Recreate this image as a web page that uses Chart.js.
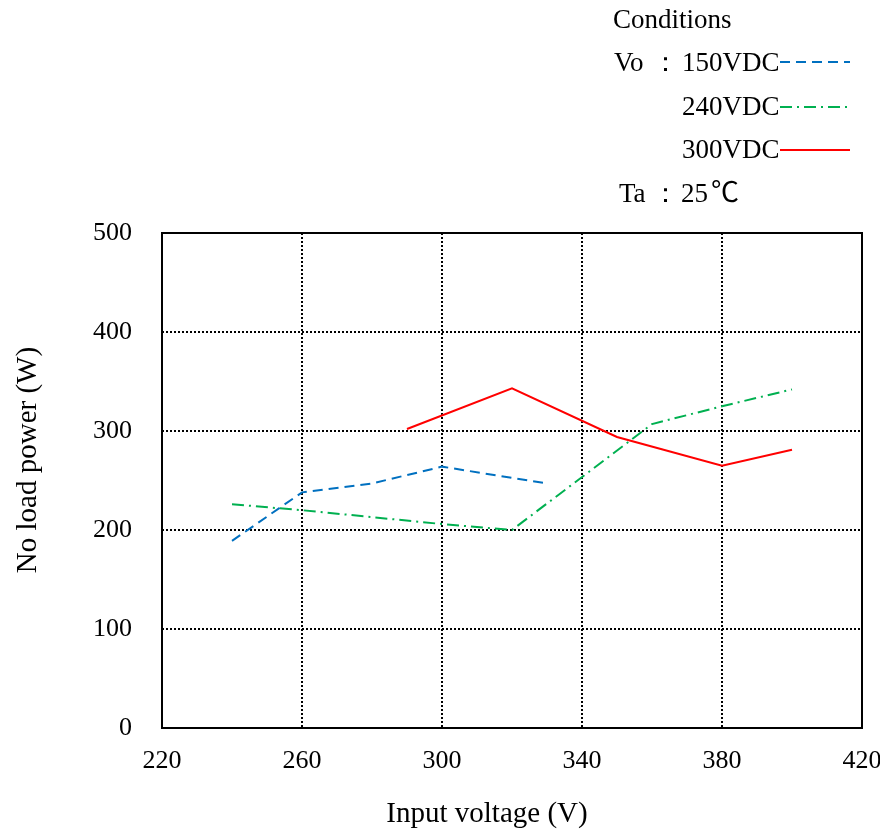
<!DOCTYPE html>
<html>
<head>
<meta charset="utf-8">
<script src="https://cdn.jsdelivr.net/npm/chart.js@4.4.1/dist/chart.umd.min.js"></script>
<style>
  html, body { margin: 0; padding: 0; background: #fff; }
  #wrap { position: relative; width: 880px; height: 829px; }
</style>
</head>
<body>
<div id="wrap"><canvas id="c" width="880" height="829"></canvas></div>
<script>
// ---- data ----
const seriesLabels = ['150VDC', '240VDC', '300VDC'];
const x150 = [240, 260, 280, 300, 330];
const y150 = [189, 238, 247, 264, 247];
const x240 = [240, 260, 300, 320, 360, 380, 400];
const y240 = [226, 220, 206, 200, 307, 325, 342];
const x300 = [290, 320, 350, 380, 400];
const y300 = [302, 343, 294, 265, 281];
const xTicks = [220, 260, 300, 340, 380, 420];
const yTicks = [0, 100, 200, 300, 400, 500];
const xTitle = 'Input voltage (V)';
const yTitle = 'No load power (W)';
const legendTitle = 'Conditions';
const legendVo = 'Vo';
const legendTa = 'Ta';
const taValue = '25';
const taUnit = '℃';

const SERIF = '"Liberation Serif", "Times New Roman", serif';
const pts = (xs, ys) => xs.map((x, i) => ({ x: x, y: ys[i] }));

const datasets = [
  { label: seriesLabels[0], data: pts(x150, y150), borderColor: '#0070C0', borderDash: [10, 6] },
  { label: seriesLabels[1], data: pts(x240, y240), borderColor: '#00B050', borderDash: [12, 5, 2, 5] },
  { label: seriesLabels[2], data: pts(x300, y300), borderColor: '#FF0000', borderDash: [] }
].map(d => Object.assign(d, { borderWidth: 2, pointRadius: 0, tension: 0, fill: false }));

const framePlugin = {
  id: 'frame',
  afterDatasetsDraw(chart) {
    const { ctx, chartArea: a } = chart;
    ctx.save();
    ctx.strokeStyle = '#000';
    ctx.lineWidth = 2;
    ctx.setLineDash([]);
    ctx.strokeRect(a.left, a.top, a.right - a.left, a.bottom - a.top);
    ctx.restore();
  }
};

const textPlugin = {
  id: 'texts',
  afterDraw(chart) {
    const ctx = chart.ctx;
    ctx.save();
    ctx.fillStyle = '#000';
    ctx.textBaseline = 'alphabetic';
    // axis titles
    ctx.font = '29px ' + SERIF;
    ctx.textAlign = 'center';
    ctx.fillText(xTitle, 487, 822);
    ctx.save();
    ctx.translate(36, 460);
    ctx.rotate(-Math.PI / 2);
    ctx.fillText(yTitle, 0, 0);
    ctx.restore();
    // legend
    ctx.font = '27px ' + SERIF;
    ctx.textAlign = 'left';
    ctx.fillText(legendTitle, 613, 28);
    ctx.fillText(legendVo, 614, 71);
    ctx.fillText('：', 652, 71);
    ctx.fillText(legendTa, 619, 202);
    ctx.fillText('：', 652, 202);
    ctx.fillText(taValue, 681, 202);
    ctx.font = '28px "Noto Sans CJK JP", ' + SERIF;
    ctx.fillText(taUnit, 711, 202);
    ctx.font = '27px ' + SERIF;
    const baselines = [71, 115, 158];
    const lineYs = [62, 107, 150];
    chart.data.datasets.forEach((ds, i) => {
      ctx.fillText(ds.label, 682, baselines[i]);
      ctx.save();
      ctx.strokeStyle = ds.borderColor;
      ctx.lineWidth = 2;
      ctx.setLineDash(ds.borderDash || []);
      ctx.beginPath();
      ctx.moveTo(780, lineYs[i]);
      ctx.lineTo(850, lineYs[i]);
      ctx.stroke();
      ctx.restore();
    });
    ctx.restore();
  }
};

new Chart(document.getElementById('c'), {
  type: 'line',
  data: { datasets: datasets },
  options: {
    responsive: false,
    animation: false,
    layout: { padding: { left: 0, top: 233, right: 18, bottom: 0 } },
    plugins: { legend: { display: false }, tooltip: { enabled: false } },
    scales: {
      x: {
        type: 'linear',
        min: xTicks[0], max: xTicks[xTicks.length - 1],
        afterBuildTicks: s => { s.ticks = xTicks.map(v => ({ value: v })); },
        afterFit: s => { s.height = 101; s.paddingLeft = 0; s.paddingRight = 0; },
        ticks: { color: '#000', font: { family: SERIF, size: 26 }, padding: 18, maxRotation: 0 },
        grid: {
          drawTicks: false,
          color: c => (c.tick && (c.tick.value === xTicks[0] || c.tick.value === xTicks[xTicks.length - 1])) ? 'rgba(0,0,0,0)' : '#000',
          lineWidth: 2
        },
        border: { display: false, dash: [2, 2] }
      },
      y: {
        type: 'linear',
        min: yTicks[0], max: yTicks[yTicks.length - 1],
        afterBuildTicks: s => { s.ticks = yTicks.map(v => ({ value: v })); },
        afterFit: s => { s.width = 162; s.paddingTop = 0; s.paddingBottom = 0; },
        ticks: { color: '#000', font: { family: SERIF, size: 26 }, padding: 30 },
        grid: {
          drawTicks: false,
          color: c => (c.tick && (c.tick.value === yTicks[0] || c.tick.value === yTicks[yTicks.length - 1])) ? 'rgba(0,0,0,0)' : '#000',
          lineWidth: 2
        },
        border: { display: false, dash: [2, 2] }
      }
    }
  },
  plugins: [framePlugin, textPlugin]
});
</script>
</body>
</html>
